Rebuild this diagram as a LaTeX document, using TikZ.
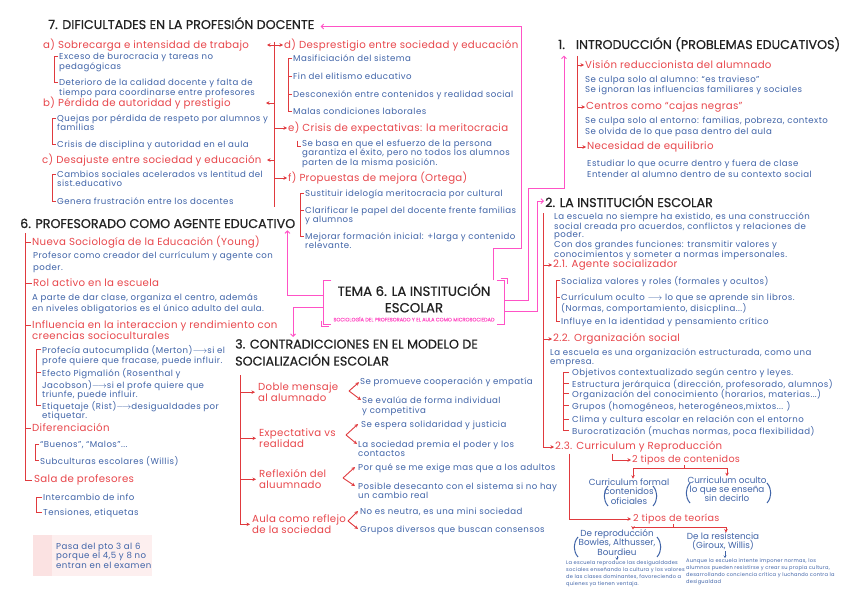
\documentclass[tikz,border=0pt]{standalone}
\usepackage{fontspec}
\setmainfont{Poppins}
\newfontfamily\blfont{Poppins}[LetterSpace=5]
\newfontfamily\rdfont{Poppins}[LetterSpace=3]
\newfontfamily\ttlfont{Poppins}[FakeBold=0.6]
\usetikzlibrary{arrows.meta}
\definecolor{redt}{HTML}{E8474C}
\definecolor{redl}{HTML}{E03A3E}
\definecolor{bluet}{HTML}{4064A8}
\definecolor{pinkl}{HTML}{FF52C6}
\definecolor{ttlc}{HTML}{222222}
\definecolor{notebg}{HTML}{FDEFEF}
\definecolor{notestrip}{HTML}{FBE2E2}
\begin{document}
\begin{tikzpicture}[x=1pt,y=-1pt,
 ttl/.style={anchor=base west,inner sep=0pt,text=ttlc,font=\ttlfont\fontsize{12.7}{17}\selectfont},
 rd/.style={anchor=west,inner sep=0pt,text=redt,font=\rdfont\fontsize{10.2}{11}\selectfont},
 rdm/.style={anchor=north west,inner sep=0pt,text=redt,align=left,font=\rdfont\fontsize{10.2}{10}\selectfont},
 rds/.style={font=\rdfont\fontsize{10.2}{#1}\selectfont},
 bl/.style={anchor=north west,inner sep=0pt,text=bluet,align=left,font=\blfont\fontsize{8.6}{9}\selectfont},
 bls/.style={font=\blfont\fontsize{8.6}{#1}\selectfont},
 blc/.style={inner sep=0pt,text=bluet,align=center,font=\fontsize{8.8}{9.2}\selectfont},
 tiny/.style={anchor=north west,inner sep=0pt,text=bluet,align=left,font=\blfont\fontsize{5.1}{7.3}\selectfont},
 rl/.style={draw=redl,line width=0.9pt},
 pl/.style={draw=pinkl,line width=0.9pt},
 ra/.style={rl,-{Stealth[length=3.5pt,width=3.5pt]}},
 pa/.style={pl,-{Straight Barb[length=2.5pt,width=5pt]}},
 parc/.style={draw=bluet,line width=1pt},
 barr/.style={draw=bluet,line width=0.8pt,-{Stealth[length=2.5pt,width=3pt]}},
]
\useasboundingbox (0,0) rectangle (848,599);
\fill[white] (0,0) rectangle (848,599);

% ---------- TEMA ----------
\node[align=center,inner xsep=10pt,inner ysep=3pt,text=ttlc,font=\ttlfont\fontsize{13.3}{16.5}\selectfont] (tema) at (414,302.5)
 {TEMA 6. LA INSTITUCIÓN\\ESCOLAR\\[-7.5pt]{\color{pinkl}\fontsize{5}{5}\selectfont SOCIOLOGÍA DEL PROFESORADO Y EL AULA COMO MICROSOCIEDAD}};
\draw[pl] ([xshift=8pt]tema.north west) -- (tema.north west) -- (tema.south west) -- ([xshift=8pt]tema.south west);
\draw[pl] ([xshift=-1.5pt,yshift=4pt]tema.south west) -- ([xshift=-1.5pt,yshift=-2pt]tema.south west) -- ++(7pt,0);
\draw[pl] ([xshift=-8pt]tema.north east) -- (tema.north east) -- (tema.south east) -- ([xshift=-8pt]tema.south east);
\draw[pl] ([xshift=-4pt,yshift=2pt]tema.north east) -- ([xshift=3pt,yshift=2pt]tema.north east) -- ([xshift=3pt,yshift=-4pt]tema.north east);

% ---------- 7 ----------
\node[ttl] (t7) at (48,29) {7. DIFICULTADES EN LA PROFESIÓN DOCENTE};
\node[rd] (s7a) at (43,45) {a) Sobrecarga e intensidad de trabajo};
\node[bl] (s7a1) at (59,52.5) {Exceso de burocracia y tareas no\\pedagógicas};
\node[bl,bls=8] (s7a2) at (59,78.5) {Deterioro de la calidad docente y falta de\\tiempo para coordinarse entre profesores};
\node[rd] (s7b) at (43,103) {b) Pérdida de autoridad y prestigio};
\node[bl] (s7b1) at (57,114.5) {Quejas por pérdida de respeto por alumnos y\\familias};
\node[bl] (s7b2) at (57,140.5) {Crisis de disciplina y autoridad en el aula};
\node[rd] (s7c) at (42,160) {c) Desajuste entre sociedad y educación};
\node[bl] (s7c1) at (57,170.5) {Cambios sociales acelerados vs lentitud del\\sist.educativo};
\node[bl] (s7c2) at (57,197.5) {Genera frustración entre los docentes};
\node[rd] (s7d) at (284,45) {d) Desprestigio entre sociedad y educación};
\node[bl] (s7d1) at (293,54.5) {Masificiación del sistema};
\node[bl] (s7d2) at (293,72.5) {Fin del elitismo educativo};
\node[bl] (s7d3) at (293,90.5) {Desconexión entre contenidos y realidad social};
\node[bl] (s7d4) at (293,107.5) {Malas condiciones laborales};
\node[rd] (s7e) at (288,128) {e) Crisis de expectativas: la meritocracia};
\node[bl] (s7e1) at (302,139.5) {Se basa en que el esfuerzo de la persona\\garantiza el éxito, pero no todos los alumnos\\parten de la misma posición.};
\node[rd] (s7f) at (288,178) {f) Propuestas de mejora (Ortega)};
\node[bl] (s7f1) at (305,189.5) {Sustituir idelogía meritocracia por cultural};
\node[bl] (s7f2) at (305,206.5) {Clarificar le papel del docente frente familias\\y alumnos};
\node[bl] (s7f3) at (305,232.5) {Mejorar formación inicial: +larga y contenido\\relevante.};

\coordinate (b7) at (274,42);
\coordinate (b7e) at (274,207);
\draw[rl] (b7) -- (b7e);
\draw[ra] (b7 |- s7a.east) -- ++(-7pt,0);
\draw[ra] (b7 |- s7b.east) -- ++(-8pt,0);
\draw[ra] (b7 |- s7c.east) -- ++(-7pt,0);
\draw[ra] (b7 |- s7d.west) -- ([xshift=-1pt]s7d.west);
\draw[ra] (b7 |- s7e.west) -- ([xshift=-1pt]s7e.west);
\draw[ra] (b7 |- s7f.west) -- ([xshift=-1pt]s7f.west);

\draw[rl] ([yshift=-3.5pt,xshift=-1pt]s7a1.north west) -- ++(-3.5pt,0) |- ([yshift=-3.5pt,xshift=-1pt]s7a2.north west);
\draw[rl] ([yshift=-3.5pt,xshift=-1pt]s7b1.north west) -- ++(-4pt,0) |- ([yshift=-3.5pt,xshift=-1pt]s7b2.north west);
\draw[rl] ([yshift=-3.5pt,xshift=-1pt]s7c1.north west) -- ++(-4pt,0) |- ([yshift=-3.5pt,xshift=-1pt]s7c2.north west);
\draw[rl] ([yshift=-3.5pt,xshift=-1pt]s7d1.north west) -- ++(-4pt,0) |- ([yshift=-3.5pt,xshift=-1pt]s7d4.north west);
\draw[rl] ([yshift=-3.5pt,xshift=-5pt]s7d2.north west) -- ++(4pt,0);
\draw[rl] ([yshift=-3.5pt,xshift=-5pt]s7d3.north west) -- ++(4pt,0);
\draw[rl] ([xshift=-5pt,yshift=-1pt]s7e1.north west) |- ([xshift=-1.5pt,yshift=-7pt]s7e1.north west);
\draw[rl] ([yshift=-3.5pt,xshift=-1pt]s7f1.north west) -- ++(-4pt,0) |- ([yshift=-3.5pt,xshift=-1pt]s7f3.north west);
\draw[rl] ([yshift=-3.5pt,xshift=-5pt]s7f2.north west) -- ++(4pt,0);

% ---------- 1 ----------
\node[ttl] (t1) at (558,49) {1.\hspace{11pt}INTRODUCCIÓN (PROBLEMAS EDUCATIVOS)};
\node[rd] (i11) at (585,65) {Visión reduccionista del alumnado};
\node[bl,bls=10.5] (i11b) at (585,75.5) {Se culpa solo al alumno: “es travieso”\\Se ignoran las influencias familiares y sociales};
\node[rd] (i12) at (586,107) {Centros como “cajas negras”};
\node[bl,bls=11] (i12b) at (585,116.5) {Se culpa solo al entorno: familias, pobreza, contexto\\Se olvida de lo que pasa dentro del aula};
\node[rd] (i13) at (587,147) {Necesidad de equilibrio};
\node[bl,bls=11] (i13b) at (587,159.5) {Estudiar lo que ocurre dentro y fuera de clase\\Entender al alumno dentro de su contexto social};
\coordinate (b1) at (577,56);
\draw[ra] (b1) |- ([xshift=-1pt]i13.west);
\draw[ra] (b1 |- i11.west) -- ([xshift=-1pt]i11.west);
\draw[ra] (b1 |- i12.west) -- ([xshift=-1pt]i12.west);

% ---------- 2 ----------
\node[ttl] (t2) at (545,207) {2. LA INSTITUCIÓN ESCOLAR};
\node[bl,bls=8.6] (p2) at (554,212.5) {La escuela no siempre ha existido, es una construcción\\social creada pro acuerdos, conflictos y relaciones de\\poder.\\Con dos grandes funciones: transmitir valores y\\conocimientos y someter a normas impersonales.};
\node[rd] (r21) at (553,265) {2.1. Agente socializador};
\node[bl] (r211) at (561,276.5) {Socializa valores y roles (formales y ocultos)};
\node[bl] (r212) at (561,293.5) {Currículum oculto \(\longrightarrow\) lo que se aprende sin libros.\\(Normas, comportamiento, disicplina...)};
\node[bl] (r213) at (561,317.5) {Influye en la identidad y pensamiento crítico};
\node[rd] (r22) at (553,339) {2.2. Organización social};
\node[bl] (r22b) at (550,348.5) {La escuela es una organización estructurada, como una\\empresa.};
\node[bl] (o1) at (572,368.5) {Objetivos contextualizado según centro y leyes.};
\node[bl] (o2) at (572,379.5) {Estructura jerárquica (dirección, profesorado, alumnos)};
\node[bl] (o3) at (572,389.5) {Organización del conocimiento (horarios, materias...)};
\node[bl] (o4) at (572,401.5) {Grupos (homogéneos, heterogéneos,mixtos... )};
\node[bl] (o5) at (572,415.5) {Clima y cultura escolar en relación con el entorno};
\node[bl] (o6) at (572,426.5) {Burocratización (muchas normas, poca flexibilidad)};
\node[rd] (r23) at (555,447) {2.3. Curriculum y Reproducción};
\coordinate (b2) at (543,213);
\draw[ra] (b2) |- ([xshift=-1pt]r23.west);
\draw[ra] (b2 |- r21.west) -- ([xshift=-1pt]r21.west);
\draw[ra] (b2 |- r22.west) -- ([xshift=-1pt]r22.west);
\draw[rl] ([yshift=-3.5pt,xshift=-1pt]r211.north west) -- ++(-4pt,0) |- ([yshift=-3.5pt,xshift=-1pt]r213.north west);
\draw[rl] ([yshift=-3.5pt,xshift=-5pt]r212.north west) -- ++(4pt,0);
\draw[rl] ([yshift=-3.5pt,xshift=-3pt]o1.north west) -- ++(-6pt,0) |- ([yshift=-3.5pt,xshift=-3pt]o6.north west);
\draw[rl] ([yshift=-3.5pt,xshift=-9pt]o2.north west) -- ++(6pt,0);
\draw[rl] ([yshift=-3.5pt,xshift=-9pt]o3.north west) -- ++(6pt,0);
\draw[rl] ([yshift=-3.5pt,xshift=-9pt]o4.north west) -- ++(6pt,0);
\draw[rl] ([yshift=-3.5pt,xshift=-9pt]o5.north west) -- ++(6pt,0);

% 2.3 details
\node[rd,font=\rdfont\fontsize{9.6}{11}\selectfont] (c1) at (632,460) {2 tipos de contenidos};
\node[rd,font=\rdfont\fontsize{9.6}{11}\selectfont] (c2) at (633,519) {2 tipos de teorías};
\draw[ra] ([xshift=57pt,yshift=-1pt]r23.south west) |- ([xshift=-1pt]c1.west);
\draw[ra] ([xshift=14pt,yshift=-1pt]r23.south west) |- ([xshift=-2pt]c2.west);
\node[blc] (cf) at (629,491.5) {Curriculum formal\\contenidos\\oficiales};
\node[blc] (co) at (727,489) {Curriculum oculto\\lo que se enseña\\sin decirlo};
\node[blc] (tr) at (617,542.5) {De reproducción\\Bowles, Althusser,\\Bourdieu};
\node[blc] (tres) at (723,541.5) {De la resistencia\\(Giroux, Willis)};
\draw[rl] ([xshift=-2pt]c1.south) -- ++(0,-3pt) coordinate (k1);
\draw[ra] (k1) -| ([xshift=4pt]cf.north);
\draw[ra] (k1) -| (co.north);
\draw[rl] ([xshift=-3pt]c2.south) -- ++(0,-3pt) coordinate (k2);
\draw[ra] (k2) -| ([xshift=16pt]tr.north);
\draw[ra] (k2) -| ([xshift=3pt]tres.north);
\draw[parc] (608,486) .. controls (603,492) and (603,500) .. (608,506);
\draw[parc] (653,486) .. controls (658,492) and (658,500) .. (653,506);
\draw[parc] (690,483) .. controls (685,489) and (685,497) .. (690,503);
\draw[parc] (767,483) .. controls (772,489) and (772,497) .. (767,503);
\draw[parc] (578,537) .. controls (573,543) and (573,551) .. (578,557);
\draw[parc] (657,537) .. controls (662,543) and (662,551) .. (657,557);
\node[tiny] (tr2) at (566,560) {La escuela reproduce las desigualdades\\sociales enseñando la cultura y los valores\\de las clases dominantes, favoreciendo a\\quienes ya tienen ventaja.};
\node[tiny] (tres2) at (686,558) {Aunque la escuela intente imponer normas, los\\alumnos pueden resistirse y crear su propia cultura,\\desarrollando conciencia crítica y luchando contra la\\desigualdad};
\draw[barr] ([yshift=-1pt]tr.south) -- (tr2.north -| tr.south);
\draw[barr] ([xshift=2pt,yshift=-1pt]tres.south) -- ([xshift=2pt]tres2.north -| tres.south);

% ---------- 6 ----------
\node[ttl] (t6) at (20,228) {6. PROFESORADO COMO AGENTE EDUCATIVO};
\node[rd] (n61) at (32,242) {Nueva Sociología de la Educación (Young)};
\node[bl,bls=12] (n61b) at (33,251.5) {Profesor como creador del currículum y agente con\\poder.};
\node[rd] (n62) at (33,283) {Rol activo en la escuela};
\node[bl,bls=11] (n62b) at (32,293.5) {A parte de dar clase, organiza el centro, además\\en niveles obligatorios es el único adulto del aula.};
\node[rdm] (n63) at (32,320.5) {Influencia en la interaccion y rendimiento con\\creencias socioculturales};
\node[bl,bls=8.2] (n631) at (42,345.5) {Profecía autocumplida (Merton)\(\longrightarrow\)si el\\profe quiere que fracase, puede influir.};
\node[bl,bls=8.5] (n632) at (42,368.5) {Efecto Pigmalión (Rosenthal y\\Jacobson)\(\longrightarrow\)si el profe quiere que\\triunfe, puede influir.};
\node[bl] (n633) at (42,401.5) {Etiquetaje (Rist)\(\longrightarrow\)desigualdades por\\etiquetar.};
\node[rd] (n64) at (32,428) {Diferenciación};
\node[bl] (n641) at (40,440.5) {“Buenos”, “Malos”...};
\node[bl] (n642) at (40,456.5) {Subculturas escolares (Willis)};
\node[rd] (n65) at (34,480) {Sala de profesores};
\node[bl] (n651) at (43,493.5) {Intercambio de info};
\node[bl] (n652) at (43,508.5) {Tensiones, etiquetas};
\coordinate (b6) at (25,233);
\draw[rl] (b6) |- ([xshift=-2pt]n65.west);
\draw[rl] (b6 |- n61.west) -- ([xshift=-1pt]n61.west);
\draw[rl] (b6 |- n62.west) -- ([xshift=-1pt]n62.west);
\draw[rl] ([xshift=-1pt,yshift=-4.5pt]n63.north west) -- ++(-6pt,0);
\draw[rl] (b6 |- n64.west) -- ([xshift=-1pt]n64.west);
\draw[rl] ([yshift=-3.5pt,xshift=-1pt]n631.north west) -- ++(-5pt,0) |- ([yshift=-3.5pt,xshift=-1pt]n633.north west);
\draw[rl] ([yshift=-3.5pt,xshift=-6pt]n632.north west) -- ++(5pt,0);
\draw[rl] ([yshift=-3.5pt,xshift=-1pt]n641.north west) -- ++(-4pt,0) |- ([yshift=-3.5pt,xshift=-1pt]n642.north west);
\draw[rl] ([yshift=-3.5pt,xshift=-1pt]n651.north west) -- ++(-6pt,0) |- ([yshift=-3.5pt,xshift=-1pt]n652.north west);

% note
\fill[notebg] (33,535) rectangle (152,576);
\fill[notestrip] (33,535) rectangle (52,576);
\node[bl,bls=9.5] (note) at (56,542.5) {Pasa del pto 3 al 6\\porque el 4,5 y 8 no\\entran en el examen};

% ---------- 3 ----------
\node[ttl,anchor=north west,align=left] (t3) at (235,339) {3. CONTRADICCIONES EN EL MODELO DE\\SOCIALIZACIÓN ESCOLAR};
\node[rdm] (s31) at (258,382.5) {Doble mensaje\\al alumnado};
\node[rdm] (s32) at (259,428.5) {Expectativa vs\\realidad};
\node[rdm,rds=11] (s33) at (259,469.5) {Reflexión del\\aluumnado};
\node[rdm,rds=9.5] (s34) at (252,514.5) {Aula como reflejo\\de la sociedad};
\node[bl] (s311) at (360,377.5) {Se promueve cooperación y empatía};
\node[bl,bls=10] (s312) at (362,396.5) {Se evalúa de forma individual\\y competitiva};
\node[bl] (s321) at (361,420.5) {Se espera solidaridad y justicia};
\node[bl] (s322) at (358,440.5) {La sociedad premia el poder y los\\contactos};
\node[bl] (s331) at (358,463.5) {Por qué se me exige mas que a los adultos};
\node[bl] (s332) at (358,482.5) {Posible desecanto con el sistema si no hay\\un cambio real};
\node[bl] (s341) at (360,507.5) {No es neutra, es una mini sociedad};
\node[bl] (s342) at (360,525.5) {Grupos diversos que buscan consensos};
\coordinate (b3) at (240,375);
\draw[ra] (b3) |- ([xshift=-2pt]s34.west);
\draw[ra] (b3 |- s31.west) -- ([xshift=-3pt]s31.west);
\draw[ra] (b3 |- s32.west) -- ([xshift=-3pt]s32.west);
\draw[ra] (b3 |- s33.west) -- ([xshift=-3pt]s33.west);
\coordinate (v31) at (349,391);
\coordinate (v32) at (346,435);
\coordinate (v33) at (343,478);
\coordinate (v34) at (348,521);
\draw[ra] (v31) -- ([xshift=-1pt]s311.west);
\draw[ra] (v31) -- ([xshift=-1pt,yshift=-3.5pt]s312.north west);
\draw[ra] (v32) -- ([xshift=-3pt,yshift=-3.5pt]s321.north west);
\draw[ra] (v32) -- ([xshift=-1pt,yshift=-3.5pt]s322.north west);
\draw[ra] (v33) -- ([xshift=-3pt,yshift=-3.5pt]s331.north west);
\draw[ra] (v33) -- ([xshift=-3pt,yshift=-3.5pt]s332.north west);
\draw[ra] (v34) -- ([xshift=-2pt,yshift=-3.5pt]s341.north west);
\draw[ra] (v34) -- ([xshift=-2pt,yshift=-3.5pt]s342.north west);

% ---------- pink connectors ----------
\coordinate (pk7) at (521,248);
\coordinate (pk1) at (528,188);
\draw[pa] ([xshift=-11pt]tema.north east) |- (pk7) |- ([xshift=6pt,yshift=2.5pt]t7.base east);
\draw[pa] ([yshift=2pt]tema.east) -| (pk1) -| ([xshift=6pt,yshift=-4pt]t1.south west);
\draw[pa] ([yshift=-9pt]tema.east) -| ([xshift=-8pt]t2.west) -- ([xshift=-1pt]t2.west);
\draw[pa] ([yshift=7pt]tema.west) -| ([xshift=-8pt,yshift=-2pt]t6.south east);
\draw[pa] ([yshift=-5pt]tema.west) -| ([xshift=58pt,yshift=2pt]t3.north west);
\end{tikzpicture}
\end{document}
